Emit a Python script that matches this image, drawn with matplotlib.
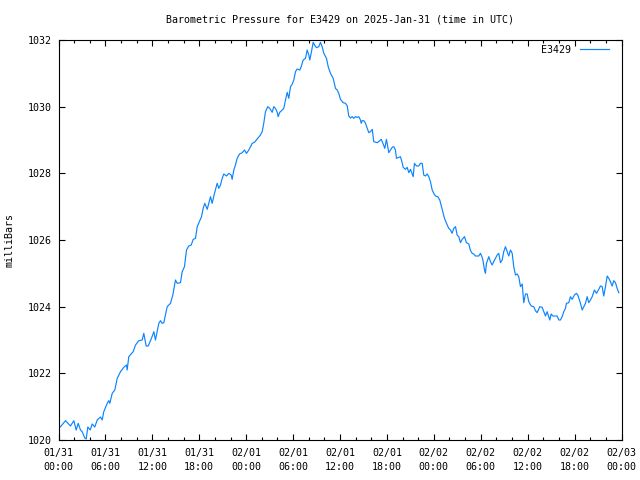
import matplotlib
matplotlib.use('Agg')
import matplotlib.pyplot as plt
import matplotlib.dates as mdates
from datetime import datetime, timedelta

# Barometerdaten E3429 (Stunden ab 2025-01-31 00:00 UTC)
station = 'E3429'
start = datetime(2025, 1, 31)

hours = [
    0.0, 0.26, 0.90, 1.53, 1.96, 2.26, 2.52, 2.81, 3.03, 3.36, 3.54, 3.75, 4.05, 4.31, 4.64, 4.95,
    5.37, 5.59, 5.79, 6.23, 6.43, 6.56, 6.87, 7.20, 7.51, 7.93, 8.35, 8.70, 8.78, 8.99, 9.55, 9.85,
    10.27, 10.70, 10.91, 11.21, 11.47, 11.89, 12.19, 12.40, 12.83, 13.04, 13.26, 13.47, 13.90, 14.32,
    14.62, 14.96, 15.18, 15.60, 15.82, 16.11, 16.37, 16.66, 16.97, 17.23, 17.52, 17.74, 18.07, 18.29,
    18.50, 18.71, 19.02, 19.22, 19.44, 19.65, 19.95, 20.29, 20.50, 20.72, 20.93, 21.14, 21.48, 21.78,
    22.08, 22.21, 22.42, 22.63, 22.85, 23.15, 23.49, 23.79, 24.04, 24.34, 24.77, 25.06, 25.41, 25.83,
    26.05, 26.25, 26.47, 26.76, 27.02, 27.33, 27.53, 27.75, 27.97, 28.09, 28.30, 28.61, 28.81, 29.03,
    29.25, 29.45, 29.67, 29.88, 30.09, 30.31, 30.52, 30.86, 31.04, 31.29, 31.59, 31.80, 32.01, 32.14,
    32.31, 32.57, 32.74, 32.99, 33.29, 33.50, 33.72, 33.93, 34.27, 34.49, 34.78, 35.13, 35.42, 35.64,
    35.84, 36.06, 36.41, 36.70, 36.92, 37.12, 37.34, 37.56, 37.76, 37.98, 38.20, 38.40, 38.62, 38.71,
    38.84, 39.04, 39.26, 39.48, 39.68, 39.90, 40.12, 40.32, 40.76, 41.09, 41.27, 41.52, 41.73, 41.94,
    42.24, 42.46, 42.67, 42.88, 43.09, 43.22, 43.52, 43.73, 43.95, 44.08, 44.37, 44.59, 44.80, 45.01,
    45.23, 45.36, 45.52, 45.78, 46.07, 46.29, 46.51, 46.71, 46.93, 47.15, 47.35, 47.57, 47.79, 47.99,
    48.21, 48.50, 48.76, 48.98, 49.19, 49.36, 49.62, 49.91, 50.13, 50.34, 50.55, 50.77, 50.98, 51.19,
    51.41, 51.62, 51.92, 52.17, 52.47, 52.69, 52.90, 53.11, 53.32, 53.75, 53.96, 54.18, 54.31, 54.48,
    54.60, 54.73, 55.03, 55.24, 55.46, 55.66, 55.88, 56.10, 56.30, 56.52, 56.74, 56.94, 57.16, 57.38,
    57.58, 57.80, 58.02, 58.22, 58.44, 58.66, 58.86, 59.08, 59.30, 59.50, 59.72, 59.94, 60.14, 60.45,
    60.78, 61.00, 61.21, 61.55, 61.85, 62.06, 62.28, 62.49, 62.70, 62.83, 63.00, 63.21, 63.77, 63.98,
    64.19, 64.41, 64.62, 64.83, 64.96, 65.26, 65.47, 65.69, 65.98, 66.24, 66.41, 66.75, 66.97, 67.18,
    67.39, 67.61, 67.81, 68.03, 68.25, 68.54, 68.80, 69.09, 69.31, 69.53, 69.73, 69.95, 70.17, 70.37,
    70.59, 70.80, 71.01, 71.23, 71.44, 71.65,
]

pressure = [
    1020.36, 1020.40, 1020.58, 1020.42, 1020.58, 1020.30, 1020.50, 1020.30, 1020.25, 1020.06, 1020.03, 1020.39, 1020.30, 1020.48, 1020.39, 1020.60,
    1020.69, 1020.60, 1020.85, 1021.10, 1021.18, 1021.10, 1021.40, 1021.50, 1021.85, 1022.05, 1022.18, 1022.25, 1022.10, 1022.50, 1022.65, 1022.85,
    1022.98, 1023.00, 1023.20, 1022.82, 1022.82, 1023.05, 1023.25, 1023.00, 1023.50, 1023.58, 1023.50, 1023.52, 1024.00, 1024.10,
    1024.35, 1024.80, 1024.70, 1024.72, 1025.05, 1025.20, 1025.70, 1025.82, 1025.85, 1026.02, 1026.05, 1026.40, 1026.58, 1026.70,
    1026.95, 1027.10, 1026.92, 1027.10, 1027.30, 1027.10, 1027.40, 1027.70, 1027.55, 1027.65, 1027.85, 1027.98, 1027.92, 1028.00,
    1027.95, 1027.82, 1028.10, 1028.25, 1028.45, 1028.58, 1028.62, 1028.70, 1028.60, 1028.70, 1028.90, 1028.93, 1029.03, 1029.15,
    1029.25, 1029.50, 1029.85, 1030.00, 1029.95, 1029.83, 1030.00, 1029.95, 1029.83, 1029.70, 1029.83, 1029.90, 1029.95, 1030.20,
    1030.43, 1030.25, 1030.60, 1030.67, 1030.80, 1031.05, 1031.13, 1031.10, 1031.20, 1031.40, 1031.45, 1031.70, 1031.55, 1031.40,
    1031.60, 1031.93, 1031.85, 1031.77, 1031.80, 1031.93, 1031.80, 1031.60, 1031.45, 1031.20, 1031.00, 1030.85, 1030.55, 1030.50,
    1030.40, 1030.22, 1030.12, 1030.10, 1030.03, 1029.72, 1029.66, 1029.70, 1029.65, 1029.70, 1029.68, 1029.70, 1029.60, 1029.50,
    1029.58, 1029.58, 1029.50, 1029.35, 1029.22, 1029.25, 1029.32, 1028.95, 1028.92, 1028.98, 1029.02, 1028.88, 1028.75, 1029.02,
    1028.62, 1028.70, 1028.78, 1028.80, 1028.70, 1028.45, 1028.48, 1028.50, 1028.32, 1028.18, 1028.12, 1028.18, 1028.02, 1028.12,
    1027.98, 1027.90, 1028.30, 1028.22, 1028.22, 1028.30, 1028.30, 1027.95, 1027.92, 1027.98, 1027.90, 1027.75, 1027.50, 1027.40,
    1027.32, 1027.30, 1027.20, 1027.00, 1026.80, 1026.65, 1026.50, 1026.35, 1026.30, 1026.20, 1026.35, 1026.40, 1026.15, 1026.10,
    1025.92, 1026.02, 1026.10, 1025.92, 1025.88, 1025.68, 1025.60, 1025.58, 1025.52, 1025.52, 1025.60, 1025.48, 1025.35, 1025.10,
    1025.00, 1025.30, 1025.50, 1025.35, 1025.25, 1025.35, 1025.45, 1025.55, 1025.60, 1025.32, 1025.40, 1025.65, 1025.80, 1025.65,
    1025.52, 1025.70, 1025.60, 1025.20, 1024.95, 1024.98, 1024.90, 1024.60, 1024.68, 1024.12, 1024.38, 1024.38, 1024.15, 1024.02,
    1024.00, 1023.88, 1023.82, 1024.00, 1023.98, 1023.85, 1023.72, 1023.85, 1023.70, 1023.60, 1023.78, 1023.72, 1023.72, 1023.60,
    1023.60, 1023.70, 1023.85, 1023.95, 1024.10, 1024.12, 1024.30, 1024.22, 1024.35, 1024.40, 1024.35, 1024.10, 1023.90, 1024.00,
    1024.10, 1024.30, 1024.12, 1024.20, 1024.30, 1024.50, 1024.40, 1024.52, 1024.62, 1024.60, 1024.32, 1024.60, 1024.92, 1024.85,
    1024.75, 1024.62, 1024.78, 1024.72, 1024.55, 1024.42,
]

y_ticks = [1020, 1022, 1024, 1026, 1028, 1030, 1032]

plt.rcParams['font.family'] = 'DejaVu Sans Mono'
plt.rcParams['font.size'] = 7.2

times = [start + timedelta(hours=h) for h in hours]

fig = plt.figure(figsize=(6.4, 4.8), dpi=100)
ax = fig.add_axes([58.5 / 640, 40 / 480, (621.5 - 58.5) / 640, 400 / 480])

ax.plot(times, pressure, color='#0a84ff', linewidth=0.85, label=station)

ax.set_xlim(start, start + timedelta(hours=72))
ax.set_ylim(1020, 1032)
ax.set_yticks(y_ticks)

ax.xaxis.set_major_locator(mdates.HourLocator(byhour=range(0, 24, 6)))
ax.xaxis.set_minor_locator(mdates.HourLocator(byhour=range(0, 24, 2)))
ax.xaxis.set_major_formatter(mdates.DateFormatter('%m/%d\n%H:%M'))

ax.tick_params(axis='both', which='major', direction='in', length=4.5, width=0.8,
               top=True, right=True, pad=5)
ax.tick_params(axis='x', which='minor', direction='in', length=2.5, width=0.8, top=True)
ax.tick_params(axis='x', which='major', pad=6)
for lbl in ax.get_xticklabels():
    lbl.set_linespacing(1.5)
for s in ax.spines.values():
    s.set_linewidth(0.8)

# Achsenbeschriftung links, Titel oben
fig.text(10 / 640, 0.5, 'milliBars', rotation=90, ha='center', va='center')
fig.text(339.5 / 640, 1 - 19 / 480, 'Barometric Pressure for E3429 on 2025-Jan-31 (time in UTC)',
         ha='center', va='center')

ax.legend(loc='upper right', bbox_to_anchor=(1 - 8 / 563, 1), frameon=False, markerfirst=False,
          handlelength=2.9, borderaxespad=0.3, borderpad=0.2, handletextpad=0.8)

fig.savefig('out.png', dpi=100)
